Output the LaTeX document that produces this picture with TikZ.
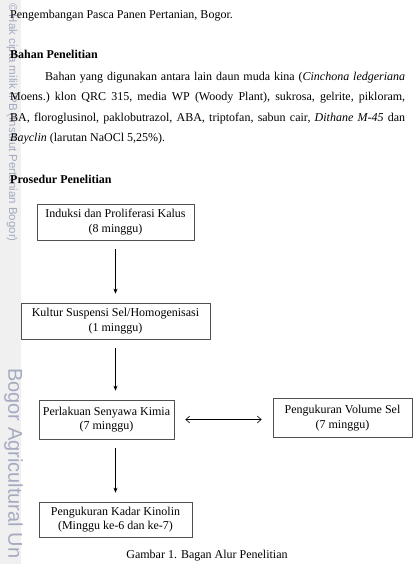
\documentclass[tikz,border=0pt]{standalone}
\usepackage{fontspec}
\setmainfont{Liberation Serif}
\setsansfont{Liberation Sans}
\usetikzlibrary{arrows.meta}

\definecolor{boxgray}{RGB}{80,80,80}
\definecolor{wmgray}{RGB}{165,170,192}
\definecolor{stripgray}{RGB}{240,240,240}

\begin{document}
\begin{tikzpicture}[x=1pt,y=-1pt,
        every node/.style={font=\fontsize{12}{14.5}\selectfont},
        flowbox/.style={draw=boxgray, line width=0.7pt, align=center, inner sep=0pt},
        flowarrow/.style={-{Stealth[length=5pt,width=4pt]}, line width=0.6pt, shorten <=9pt, shorten >=9pt},
        wmark/.style={color=wmgray, rotate=-90, anchor=west, inner sep=0pt}]
        \clip (0,0) rectangle (415,564);
        \fill [stripgray] (0,0) rectangle (21,564);
        % watermark
        \node [wmark, font=\sffamily\fontsize{11.5}{13}\selectfont] (hakcipta) at (12,3) {\textcopyright{} Hak cipta milik IPB (Institut Pertanian Bogor)};
        \node [wmark, font=\sffamily\fontsize{20}{22}\selectfont] (univ) at (13.5,368) {Bogor Agricultural Un};
        % page text
        \node [anchor=base west, inner sep=0pt] (kop) at (10,19) {Pengembangan Pasca Panen Pertanian, Bogor.};
        \node [anchor=base west, inner sep=0pt, font=\fontsize{12}{14.5}\selectfont\bfseries] (bahan) at (10,59) {Bahan Penelitian};
        \node [anchor=north west, inner sep=0pt, text width=395pt, align=justify, font=\fontsize{12}{20.4}\selectfont\frenchspacing] (isi) at (10,72)
            {\hspace*{35pt}Bahan yang digunakan antara lain daun muda kina (\textit{Cinchona ledgeriana}\linebreak
             Moens.) klon QRC 315, media WP (Woody Plant), sukrosa, gelrite, pikloram,\linebreak
             BA, floroglusinol, paklobutrazol, ABA, triptofan, sabun cair, \textit{Dithane M-45} dan\linebreak
             \textit{Bayclin} (larutan NaOCl 5,25\%).};
        \node [anchor=base west, inner sep=0pt, font=\fontsize{12}{14.5}\selectfont\bfseries] (prosedur) at (10,183) {Prosedur Penelitian};
        % flow chart
        \node [flowbox, minimum width=157pt, minimum height=36pt] (induksi) at (115.5,222) {Induksi dan Proliferasi Kalus\\(8 minggu)};
        \node [flowbox, minimum width=189pt, minimum height=36pt] (kultur) at (115.5,321) {Kultur Suspensi Sel/Homogenisasi\\(1 minggu)};
        \node [flowbox, minimum width=135pt, minimum height=39pt] (perlakuan) at (106.5,419.5) {Perlakuan Senyawa Kimia\\(7 minggu)};
        \node [flowbox, minimum width=139pt, minimum height=39pt] (volume) at (342.5,418) {Pengukuran Volume Sel\\(7 minggu)};
        \node [flowbox, minimum width=153pt, minimum height=35pt] (kadar) at (115.5,519.5) {Pengukuran Kadar Kinolin\\(Minggu ke-6 dan ke-7)};
        \draw [flowarrow] (induksi.south) -- (kultur.north);
        \draw [flowarrow] (kultur.south) -- (perlakuan.north -| kultur.south);
        \draw [flowarrow] (perlakuan.south -| kultur.south) -- (kadar.north -| kultur.south);
        \draw [{Straight Barb[length=4pt,width=7pt]}-{Straight Barb[length=4pt,width=7pt]}, line width=0.6pt, shorten <=11pt, shorten >=11pt] (perlakuan.east) -- (perlakuan.east -| volume.west);
        % caption
        \node [anchor=base] (judul) at (207,558) {Gambar 1. Bagan Alur Penelitian};
    \end{tikzpicture}
\end{document}
